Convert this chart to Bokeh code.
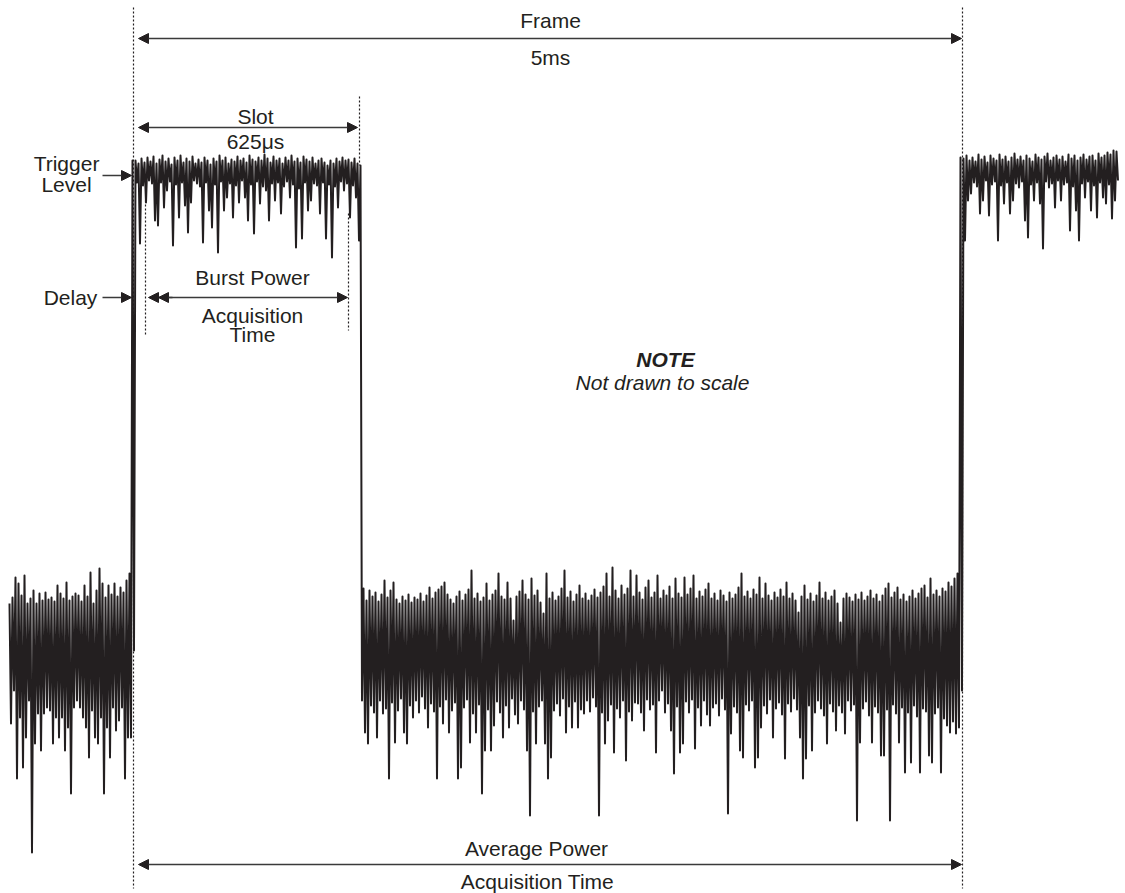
from bokeh.plotting import figure
from bokeh.models import Range1d, Arrow, NormalHead, ColumnDataSource
from bokeh.embed import file_html
from bokeh.resources import INLINE
from bokeh.core.properties import value

# ---------------- data: trace levels (dB), upper / lower excursion per sample ----------------
# A: noise floor before the burst
A_hi = [9.7, 10.3, 12.3, 11.7, 10.5, 12.5, 9.7, 10.2, 11.0, 9.7, 10.7, 10.0, 10.8, 10.1, 10.3,
        9.9, 11.5, 10.7, 10.2, 11.8, 10.0, 10.4, 10.7, 10.5, 9.9, 11.5, 10.4, 12.8, 9.7, 11.0,
        13.2, 11.7, 10.3, 11.5, 10.6, 11.7, 10.4, 11.3, 10.8, 12.0, 12.7]
A_lo = [-2.3, 1.0, -7.8, -1.7, -6.7, -3.7, 0.0, -15.2, -4.3, -1.3, -5.0, -1.3, -0.7, -1.0, -4.3,
        -1.7, -3.7, -1.7, -5.0, -2.7, -9.3, -0.7, 0.0, -0.7, -1.7, -2.7, -5.7, -1.0, -3.7, -4.3,
        -1.7, -9.3, -2.7, -5.7, -0.7, -3.0, -2.0, -0.7, -7.8, -3.7, -3.7]
# C: burst (slot)
C_hi = [54.0, 53.7, 54.2, 53.8, 54.3, 53.9, 54.4, 53.7, 54.1, 54.5,
        53.9, 54.2, 53.6, 54.3, 54.0, 54.5, 53.8, 54.2, 53.9, 54.4,
        53.7, 54.1, 53.8, 54.3, 54.0, 53.6, 54.2, 53.9, 54.5, 54.0,
        54.3, 53.7, 54.1, 53.9, 54.4, 54.0, 54.2, 53.8, 54.5, 54.1,
        53.9, 54.3, 54.0, 54.6, 54.2, 53.8, 54.4, 54.0, 54.2, 53.7,
        54.3, 54.0, 54.5, 53.9, 54.2, 53.8, 54.4, 54.1, 53.9, 54.3,
        53.7, 54.0, 54.2, 53.8, 53.5, 54.0, 53.7, 54.2, 53.9, 54.3,
        54.0, 54.1, 53.8, 54.2, 53.7]
C_lo = [51.8, 45.7, 51.5, 49.8, 52.0, 51.7, 48.0, 47.5, 51.8, 49.3,
        51.0, 51.9, 45.5, 51.6, 48.3, 51.8, 49.5, 46.8, 49.8, 52.0,
        51.7, 51.4, 45.8, 51.8, 49.0, 47.3, 51.6, 44.8, 51.9, 49.0,
        50.3, 51.7, 48.3, 51.5, 49.8, 52.0, 50.3, 48.0, 51.6, 46.7,
        51.9, 49.7, 51.4, 51.0, 48.0, 51.7, 50.0, 51.8, 48.7, 51.4,
        51.9, 50.3, 51.6, 45.3, 51.2, 46.2, 51.8, 49.0, 50.0, 51.7,
        51.5, 48.7, 51.8, 46.2, 51.6, 44.3, 51.4, 49.3, 51.9, 51.0,
        51.7, 48.3, 51.5, 50.3, 46.0]
# B: noise floor between bursts
B_hi = [11.2, 10.0, 11.0, 10.4, 10.8, 9.9, 10.6, 12.0, 10.3, 11.0,
        11.8, 10.1, 9.7, 10.4, 10.0, 10.6, 9.8, 10.3, 10.1, 10.7,
        9.9, 10.5, 11.3, 10.2, 10.8, 11.1, 11.4, 11.8, 10.6, 10.1,
        9.7, 10.4, 10.9, 10.0, 10.6, 11.1, 13.0, 10.2, 10.7, 9.9,
        10.3, 11.7, 10.0, 10.6, 11.0, 12.7, 10.4, 10.1, 11.8, 10.2,
        8.0, 10.4, 10.9, 12.0, 10.6, 10.1, 12.2, 10.5, 11.0, 9.8,
        8.7, 12.7, 10.2, 10.8, 10.0, 10.4, 11.2, 13.0, 10.3, 10.9,
        9.9, 10.6, 11.5, 10.2, 10.7, 10.0, 10.5, 11.1, 10.3, 10.8,
        11.4, 12.7, 10.4, 13.3, 11.0, 10.2, 11.5, 10.6, 11.2, 13.0,
        10.4, 12.5, 10.8, 10.1, 11.3, 12.0, 10.3, 10.8, 12.5, 10.2,
        11.0, 10.5, 11.4, 10.2, 12.2, 10.7, 10.3, 12.3, 10.6, 11.2,
        12.5, 10.2, 10.9, 10.4, 11.1, 11.7, 10.2, 10.7, 10.0, 11.0,
        10.5, 9.9, 10.8, 10.2, 10.6, 11.3, 12.7, 10.4, 10.9, 10.2,
        11.1, 10.6, 12.3, 10.2, 11.7, 10.5, 10.0, 10.8, 10.3, 11.1,
        10.4, 11.8, 10.2, 10.7, 10.0, 8.8, 10.4, 11.5, 10.1, 10.7,
        9.9, 10.5, 11.8, 10.2, 10.8, 10.0, 10.4, 11.0, 9.7, 7.8,
        10.2, 10.7, 10.3, 9.9, 10.6, 10.1, 10.8, 10.0, 10.4, 11.0,
        10.2, 10.6, 9.9, 10.5, 11.2, 11.7, 10.3, 10.8, 11.3, 10.1,
        10.6, 9.9, 10.4, 11.0, 10.2, 10.7, 11.2, 11.5, 10.3, 12.2,
        10.6, 11.0, 10.4, 11.2, 10.9, 11.8, 11.4, 12.2, 12.7]
B_lo = [-3.2, -4.3, -0.5, -1.2, -3.7, 0.0, -1.3, -0.8, -7.8, -0.2,
        -4.2, -1.0, 0.2, -3.2, -4.3, -0.5, -1.7, 0.0, -1.2, 0.4,
        -0.8, -2.7, -0.3, -1.1, -7.8, -0.6, -2.3, 0.1, -3.2, -1.0,
        -0.2, -7.8, -6.7, -0.7, 0.1, -4.2, -1.3, -3.2, -0.4, -9.3,
        -5.0, -0.9, -5.0, -2.5, -0.1, -1.2, -3.7, -0.5, -2.7, 0.2,
        -1.4, -2.3, 0.0, -0.9, -5.0, -11.5, -1.1, -4.3, -0.6, 0.0,
        -4.3, -7.8, -5.7, -1.0, -0.3, -1.5, 0.2, -3.2, -0.6, -2.7,
        -0.1, -2.7, -0.9, -1.3, 0.0, -1.1, 0.3, -0.6, -11.5, -1.2,
        -4.3, -2.0, -0.4, -5.2, -0.8, -1.7, 0.0, -6.0, -1.1, -2.0,
        -0.2, -0.3, -1.2, -3.0, 0.1, -0.9, -0.4, -5.2, 0.0, 1.0,
        -1.2, -0.3, -3.0, -7.3, -0.6, -5.2, -4.3, -0.1, -1.2, 0.1,
        -4.8, -0.7, -2.5, 0.0, -1.4, -2.5, -0.7, -0.3, -1.5, 0.2,
        -0.9, -11.3, -3.3, -0.6, -1.2, -5.0, -5.7, -0.4, -1.0, 0.0,
        -6.7, -5.7, -2.7, -0.5, -1.3, 0.1, -3.7, -0.8, -0.2, -1.4,
        -5.8, -0.3, -1.1, 0.2, -0.9, -3.7, -7.8, -5.8, -0.5, -5.0,
        -1.2, 0.0, -0.8, -1.5, -4.3, -0.3, -1.1, -3.0, -0.5, -1.2,
        -3.3, 0.0, -1.0, -0.4, -12.0, -4.2, -0.8, -0.1, -1.5, -4.2,
        -0.6, -1.2, -5.5, -5.5, -0.9, -12.0, -0.4, -1.3, -4.2, -0.7,
        -7.2, -1.2, -6.2, -0.5, -1.6, -7.2, -0.8, -1.1, -5.5, -6.2,
        -1.3, -0.7, -7.2, -1.8, -2.5, -3.2, -2.1, -3.3, -2.7]
# D: next burst
D_hi = [54.2, 54.5, 54.0, 54.3, 53.9, 54.6, 54.1, 54.4, 53.8, 54.5,
        54.2, 54.0, 54.6, 54.1, 54.4, 53.9, 54.3, 54.7, 54.1, 54.4,
        54.0, 54.5, 54.2, 53.9, 54.6, 54.3, 54.1, 54.4, 54.7, 54.0,
        54.3, 54.5, 54.1, 54.4, 53.9, 54.6, 54.2, 54.5, 54.0, 54.3,
        54.6, 54.1, 54.4, 54.5, 54.0, 54.7, 54.3, 54.5, 54.8, 54.6,
        55.0, 54.9]
D_lo = [46.0, 50.0, 50.7, 51.8, 51.4, 48.7, 50.0, 52.0, 48.5, 51.6,
        51.9, 46.0, 51.5, 49.7, 51.8, 48.7, 50.0, 51.7, 51.3, 51.9,
        48.0, 46.3, 51.6, 50.0, 51.8, 49.7, 45.2, 51.9, 51.3, 51.7,
        49.3, 52.0, 50.0, 51.6, 51.8, 47.0, 51.4, 49.0, 46.0, 51.7,
        50.3, 51.9, 49.0, 51.5, 48.3, 51.8, 50.3, 49.7, 51.6, 48.2,
        50.0, 52.0]
# transitions (hi, lo)
RISE_1 = ([54.0], [5.0])
FALL_1 = ([53.5], [0.0])
RISE_2 = ([54.3], [1.0])

# text labels
LABELS_PLAIN = ["Frame", "5ms", "Slot", "625\u03bcs", "Trigger", "Level", "Delay",
                "Burst Power", "Acquisition", "Time", "Average Power", "Acquisition Time"]
NOTE_TITLE = "NOTE"
NOTE_TEXT = "Not drawn to scale"

# ---------------- layout ----------------
INK = "#231f20"
DT = 3.0
segments = [(9, A_hi, A_lo), (132, *RISE_1), (135, C_hi, C_lo), (360, *FALL_1),
            (363, B_hi, B_lo), (960, *RISE_2), (963, D_hi, D_lo)]

xs, ys = [], []
for t0, hi, lo in segments:
    for i, (h, l) in enumerate(zip(hi, lo)):
        t = t0 + i * DT
        xs += [t, t + DT / 2]
        ys += [h, l]

W, H = 1125, 893
p = figure(width=W, height=H, output_backend="svg", toolbar_location=None,
           x_range=Range1d(0, 1125), y_range=Range1d(-19.3, 70.0),
           min_border=0, x_axis_location=None, y_axis_location=None)
p.grid.visible = False
p.outline_line_color = None
p.background_fill_color = "white"
p.border_fill_color = "white"

# dotted guides
dots = dict(x0=[133, 962, 359, 145, 348], x1=[133, 962, 359, 145, 348],
            y0=[69.3, 69.3, 60.4, 50.0, 48.7], y1=[-18.8, -18.8, 53.5, 36.4, 37.0])
p.segment(x0="x0", y0="y0", x1="x1", y1="y1", source=ColumnDataSource(dots),
          line_color=INK, line_width=1.2, line_dash="2 2")

# trace
p.line(xs, ys, line_color=INK, line_width=2.0, line_join="round")

# arrows
def head():
    return NormalHead(size=10, fill_color=INK, line_color=INK, line_width=1)

def arrow(x0, x1, y, start=True, end=True):
    p.add_layout(Arrow(x_start=x0, y_start=y, x_end=x1, y_end=y,
                       start=head() if start else None, end=head() if end else None,
                       line_color="#3a3a3a", line_width=1.4))

arrow(138, 961, 66.2)          # frame
arrow(138, 357, 57.3)          # slot
arrow(102, 131, 52.5, start=False)   # trigger level
arrow(102, 131, 40.3, start=False)   # delay
arrow(148, 347, 40.3)          # burst power acquisition
arrow(172, 158, 40.3, start=False)
arrow(138, 961, -16.4)         # average power

# texts
FONT = value("Liberation Sans")
tx = [550, 550, 255, 255, 66, 66, 70, 252, 252, 252, 536, 537]
ty = [68.0, 64.3, 58.4, 55.9, 53.7, 51.6, 40.3, 42.3, 38.5, 36.6, -14.8, -18.1]
p.text(x=tx, y=ty, text=LABELS_PLAIN, text_align="center", text_baseline="middle",
       text_font=FONT, text_font_size="21px", text_color=INK)
p.text(x=[665], y=[34.1], text=[NOTE_TITLE], text_align="center", text_baseline="middle",
       text_font=FONT, text_font_size="21px", text_color=INK,
       text_font_style="bold italic")
p.text(x=[662], y=[31.8], text=[NOTE_TEXT], text_align="center", text_baseline="middle",
       text_font=FONT, text_font_size="21px", text_color=INK,
       text_font_style="italic")

open("out.html", "w").write(file_html(p, INLINE))
